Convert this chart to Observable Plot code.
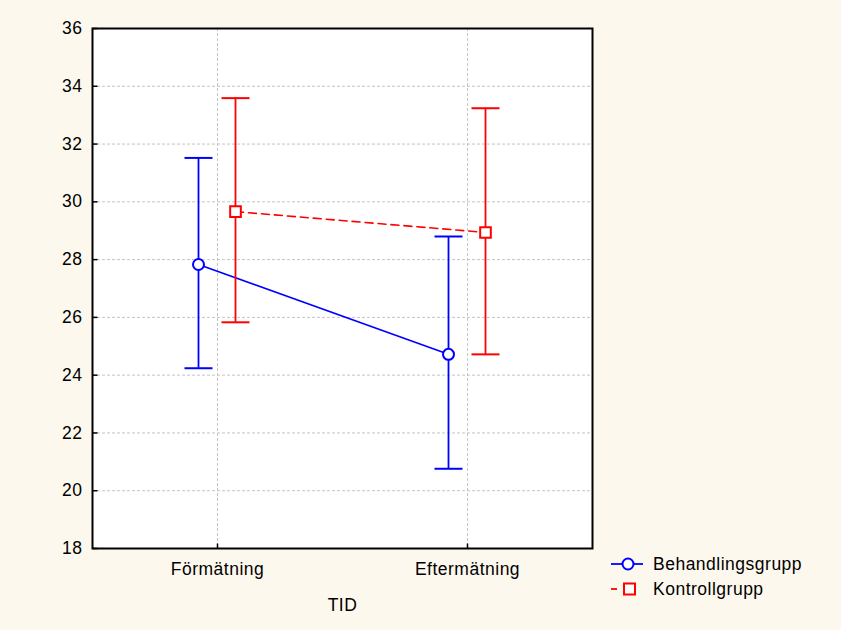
<!DOCTYPE html>
<html><head><meta charset="utf-8">
<script src="https://cdn.jsdelivr.net/npm/d3@7"></script>
<script src="https://cdn.jsdelivr.net/npm/@observablehq/plot@0.6"></script>
<style>
body{margin:0;background:#fdf8ed;font-family:"Liberation Sans",Arial,sans-serif;}
#wrap{position:relative;width:841px;height:630px;overflow:hidden;}
#legend{position:absolute;left:606px;top:550px;}
svg text{letter-spacing:0.5px;}
</style></head><body><div id="wrap"><div id="chart"></div><div id="legend"></div></div>
<script>
const times = ["Förmätning", "Eftermätning"];
const groups = ["Behandlingsgrupp", "Kontrollgrupp"];
const behMean = [27.83, 24.72], behLow = [24.24, 20.76], behHigh = [31.52, 28.80];
const konMean = [29.66, 28.94], konLow = [25.83, 24.72], konHigh = [33.59, 33.24];
const yTicks = [18, 20, 22, 24, 26, 28, 30, 32, 34, 36];
const xTitle = "TID";

const blue = "#0000ff", red = "#ff0000";
const fs = 17.5;
const beh = times.map((t, i) => ({time: t, mean: behMean[i], low: behLow[i], high: behHigh[i]}));
const kon = times.map((t, i) => ({time: t, mean: konMean[i], low: konLow[i], high: konHigh[i]}));
const cap = {draw(ctx) { ctx.moveTo(-14, 0); ctx.lineTo(14, 0); }};
const tickRight = {draw(ctx) { ctx.moveTo(0, 0); ctx.lineTo(5, 0); }};
const tickUp = {draw(ctx) { ctx.moveTo(0, 0); ctx.lineTo(0, -5); }};
const dB = -19, dK = 18;

const grid = {stroke: "#c4c4c4", strokeOpacity: 1, strokeDasharray: "3,2"};
const chart = Plot.plot({
  width: 841, height: 630,
  marginLeft: 92, marginRight: 249, marginTop: 28, marginBottom: 82,
  style: {background: "transparent", fontFamily: "'Liberation Sans', Arial, sans-serif", fontSize: fs + "px", color: "#000", overflow: "visible"},
  x: {type: "point", domain: times, padding: 0.5, axis: null},
  y: {domain: [18, 36], axis: null},
  marks: [
    Plot.frame({fill: "white", stroke: null}),
    Plot.gridY(yTicks, grid),
    Plot.gridX(times, grid),
    Plot.line(beh, {x: "time", y: "mean", dx: dB, stroke: blue, strokeWidth: 1.6}),
    Plot.line(kon, {x: "time", y: "mean", dx: dK, stroke: red, strokeWidth: 1.6, strokeDasharray: "8,5"}),
    Plot.ruleX(beh, {x: "time", y1: "low", y2: "high", dx: dB, stroke: blue, strokeWidth: 1.8}),
    Plot.ruleX(kon, {x: "time", y1: "low", y2: "high", dx: dK, stroke: red, strokeWidth: 1.8}),
    Plot.dot(beh, {x: "time", y: "low", dx: dB, symbol: cap, stroke: blue, strokeWidth: 2}),
    Plot.dot(beh, {x: "time", y: "high", dx: dB, symbol: cap, stroke: blue, strokeWidth: 2}),
    Plot.dot(kon, {x: "time", y: "low", dx: dK, symbol: cap, stroke: red, strokeWidth: 2}),
    Plot.dot(kon, {x: "time", y: "high", dx: dK, symbol: cap, stroke: red, strokeWidth: 2}),
    Plot.dot(beh, {x: "time", y: "mean", dx: dB, r: 5.5, symbol: "circle", fill: "white", stroke: blue, strokeWidth: 2}),
    Plot.dot(kon, {x: "time", y: "mean", dx: dK, r: 6, symbol: "square", fill: "white", stroke: red, strokeWidth: 2}),
    Plot.frame({stroke: "#000", strokeWidth: 2}),
    Plot.dot(yTicks, {y: d => d, frameAnchor: "left", symbol: tickRight, stroke: "#000", strokeWidth: 1.5}),
    Plot.dot(times, {x: d => d, frameAnchor: "bottom", symbol: tickUp, stroke: "#000", strokeWidth: 1.5}),
    Plot.axisY(yTicks, {tickSize: 0, tickPadding: 10, fontSize: fs, fill: "#000", label: null}),
    Plot.axisX(times, {tickSize: 0, tickPadding: 14, fontSize: fs, fill: "#000", label: null}),
    Plot.text([xTitle], {text: d => d, frameAnchor: "bottom", dy: 62, fontSize: fs, fill: "#000"})
  ]
});
document.getElementById("chart").appendChild(chart);

// legend
const lg = d3.select("#legend").append("svg").attr("width", 235).attr("height", 52)
  .style("font-family", "'Liberation Sans', Arial, sans-serif").style("font-size", fs + "px");
const rows = [
  {name: groups[0], color: blue, dash: null, sym: "circle"},
  {name: groups[1], color: red, dash: "6,30", sym: "square"}
];
rows.forEach((r, i) => {
  const y = 14 + i * 25;
  lg.append("line").attr("x1", 5).attr("x2", 37).attr("y1", y).attr("y2", y)
    .attr("stroke", r.color).attr("stroke-width", 1.8).attr("stroke-dasharray", r.dash);
  if (r.sym === "circle") {
    lg.append("circle").attr("cx", 22).attr("cy", y).attr("r", 5.5).attr("fill", "white").attr("stroke", r.color).attr("stroke-width", 2);
  } else {
    lg.append("rect").attr("x", 18).attr("y", y - 5.5).attr("width", 11).attr("height", 11).attr("fill", "white").attr("stroke", r.color).attr("stroke-width", 2);
  }
  lg.append("text").attr("x", 47).attr("y", y).attr("dy", "0.35em").attr("fill", "#000").text(r.name);
});
</script></body></html>
